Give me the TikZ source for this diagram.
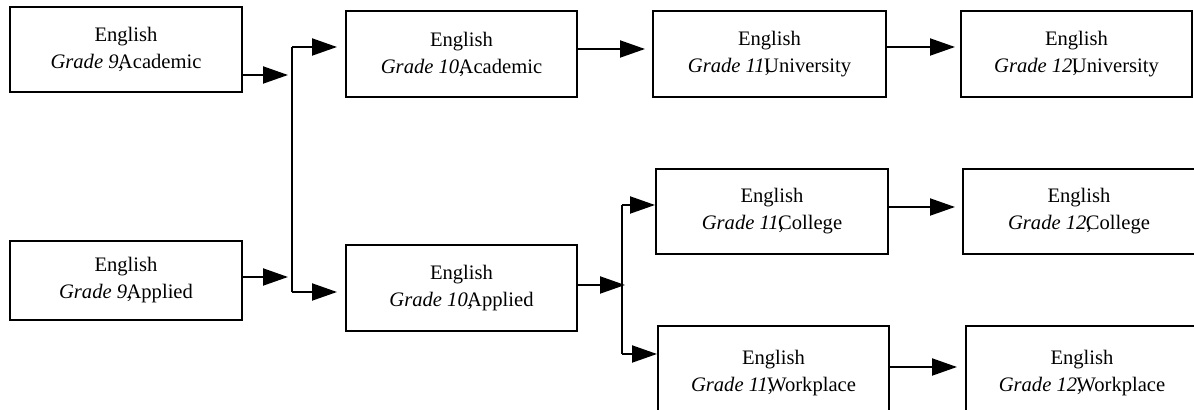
\documentclass[tikz,border=0pt]{standalone}
\usepackage{fontspec}
\setmainfont{Liberation Serif}
\usetikzlibrary{arrows.meta}
\newcommand{\gl}[2]{English\\\textit{Grade #1,}\kern-0.28em #2}
\begin{document}
\begin{tikzpicture}[x=0.5pt,y=-0.5pt,
  box/.style={draw, line width=1pt, inner sep=0pt, align=center,
    font=\fontsize{10.3}{13.5}\selectfont},
  arr/.style={line width=1pt, -{Triangle[length=12.5pt,width=8.5pt]}},
  ln/.style={line width=1pt}]
\useasboundingbox (0,0) rectangle (1194,410);
\clip (0,0) rectangle (1194,410);
% boxes
\node[box, minimum width=116pt, minimum height=42.5pt] (g9a) at (126,49.5) {\gl{9}{Academic}};
\node[box, minimum width=116pt, minimum height=39.5pt] (g9p) at (126,280.5) {\gl{9}{Applied}};
\node[box, minimum width=115.5pt, minimum height=43pt] (g10a) at (461.5,54) {\gl{10}{Academic}};
\node[box, minimum width=116.5pt, minimum height=43pt] (g11u) at (769.5,54) {\gl{11}{University}};
\node[box, minimum width=115.5pt, minimum height=43pt] (g12u) at (1076.5,54) {\gl{12}{University}};
\node[box, minimum width=115.5pt, minimum height=43pt] (g10p) at (461.5,288) {\gl{10}{Applied}};
\node[box, minimum width=116pt, minimum height=42.5pt] (g11c) at (772,211.5) {\gl{11}{College}};
\node[box, minimum width=115.5pt, minimum height=47pt] (g11w) at (773.5,373) {\gl{11}{Workplace}};
\node[box, minimum width=116pt, minimum height=42.5pt] (g12c) at (1079,211.5) {\gl{12}{College}};
\node[box, minimum width=116pt, minimum height=47pt] (g12w) at (1082,373) {\gl{12}{Workplace}};
% coordinates
\coordinate (t1) at (288,75);
\coordinate (t2) at (288,277);
\coordinate (j1) at (292,47);
\coordinate (j2) at (292,292);
\coordinate (e1) at (337,47);
\coordinate (e2) at (337,292);
\coordinate (t3) at (645,49);
\coordinate (t4) at (955,47);
\coordinate (t5) at (625,285);
\coordinate (j3) at (622,205);
\coordinate (j4) at (622,354);
\coordinate (t6) at (955,207);
\coordinate (t7) at (957,367);
% connectors
\draw[arr] (t1 -| g9a.east) -- (t1);
\draw[arr] (t2 -| g9p.east) -- (t2);
\draw[ln] (j1) -- (j2);
\draw[arr] (j1) -- (e1);
\draw[arr] (j2) -- (e2);
\draw[arr] (t3 -| g10a.east) -- (t3);
\draw[arr] (t4 -| g11u.east) -- (t4);
\draw[arr] (t5 -| g10p.east) -- (t5);
\draw[ln] (j3) -- (j4);
\draw[arr] (j3) -- (j3 -| g11c.west);
\draw[arr] (j4) -- (j4 -| g11w.west);
\draw[arr] (t6 -| g11c.east) -- (t6);
\draw[arr] (t7 -| g11w.east) -- (t7);
\end{tikzpicture}
\end{document}
